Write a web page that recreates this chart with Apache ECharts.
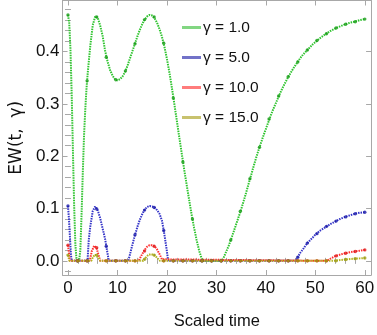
<!DOCTYPE html>
<html><head><meta charset="utf-8">
<script src="https://cdn.jsdelivr.net/npm/echarts@6/dist/echarts.min.js"></script>
<style>html,body{margin:0;padding:0;background:#fff}#c{width:377px;height:335px}</style>
</head><body><div id="c"></div>
<script>
const seriesNames = ['γ = 1.0', 'γ = 5.0', 'γ = 10.0', 'γ = 15.0'];
const xTicks = [0, 10, 20, 30, 40, 50, 60];
const xMinorTicks = [2,4,6,8,12,14,16,18,22,24,26,28,32,34,36,38,42,44,46,48,52,54,56,58];
const yTicks = [0.0, 0.1, 0.2, 0.3, 0.4];
const yMinorTicks = [-0.02,0.02,0.04,0.06,0.08,0.12,0.14,0.16,0.18,0.22,0.24,0.26,0.28,0.32,0.34,0.36,0.38,0.42,0.44,0.46,0.48];

const greenT = [0,0.25,0.5,0.75,1,1.25,1.5,1.75,2,2.25,2.5,2.75,3,3.25,3.5,3.75,4,4.5,5,5.5,6,6.5,7,7.5,8,8.5,9,9.5,10,10.5,11,11.5,12,12.5,13,13.5,14,14.5,15,15.5,16,16.5,17,17.5,18,18.5,19,19.5,20,20.5,21,21.5,22,22.5,23,23.5,24,24.5,25,25.5,26,26.5,27,27.4,31.1,31.5,32,32.5,33,33.5,34,34.5,35,35.5,36,36.5,37,37.5,38,38.5,39,39.5,40,40.5,41,41.5,42,42.5,43,43.5,44,44.5,45,45.5,46,46.5,47,47.5,48,48.5,49,49.5,50,51,52,53,54,55,56,57,58,59,60];
const greenV = [0.470,0.455,0.405,0.320,0.210,0.105,0.030,0,0,0,0.020,0.090,0.170,0.240,0.290,0.330,0.360,0.410,0.450,0.467,0.465,0.450,0.430,0.402,0.381,0.365,0.354,0.347,0.345,0.347,0.352,0.360,0.372,0.386,0.400,0.414,0.428,0.441,0.452,0.461,0.467,0.470,0.469,0.464,0.455,0.443,0.428,0.409,0.386,0.360,0.331,0.300,0.268,0.236,0.205,0.174,0.145,0.116,0.088,0.063,0.040,0.020,0.005,0,0,0.007,0.018,0.029,0.042,0.056,0.070,0.084,0.098,0.114,0.130,0.147,0.163,0.180,0.196,0.211,0.225,0.239,0.252,0.265,0.278,0.290,0.301,0.312,0.323,0.333,0.342,0.351,0.359,0.367,0.374,0.381,0.388,0.394,0.399,0.404,0.409,0.414,0.418,0.426,0.433,0.439,0.444,0.448,0.452,0.455,0.457,0.460,0.462];

const blueT = [0,0.2,0.4,0.6,0.75,3.95,4.2,4.5,5,5.5,6,6.5,7,7.5,8,8.25,12.2,13,13.5,14,14.5,15,15.5,16,16.5,17,17.5,18,18.5,19,19.5,20,20.25,46,46.5,47,47.5,48,48.5,49,50,51,52,53,54,55,56,57,58,59,60];
const blueV = [0.105,0.080,0.045,0.012,0,0,0.040,0.065,0.095,0.104,0.097,0.082,0.062,0.042,0.014,0,0,0.030,0.048,0.064,0.078,0.089,0.098,0.103,0.105,0.104,0.102,0.097,0.090,0.077,0.050,0.018,0,0,0.008,0.016,0.022,0.029,0.035,0.040,0.050,0.058,0.064,0.070,0.075,0.080,0.084,0.087,0.090,0.092,0.093];

const redT = [0,0.2,0.35,4.4,4.8,5.3,5.8,6.2,6.5,14.3,15,15.5,16,16.5,17,17.5,18,18.5,19,19.2,52.3,53,54,55,56,57,58,59,60];
const redV = [0.030,0.015,0,0,0.018,0.029,0.024,0.010,0,0,0.013,0.021,0.027,0.030,0.030,0.028,0.022,0.013,0.003,0,0,0.004,0.009,0.012,0.0145,0.0165,0.018,0.0195,0.021];

const oliveT = [0,0.15,0.3,4.7,5.1,5.5,5.9,6.3,6.5,15.2,15.7,16.2,16.8,17.4,18,18.6,53.5,55,56,57,58,59,60];
const oliveV = [0.011,0.005,0,0,0.008,0.012,0.011,0.004,0,0,0.006,0.011,0.013,0.011,0.006,0,0,0.0015,0.0025,0.0035,0.0042,0.0048,0.0055];

const markT = [0,1.935,3.871,5.806,7.742,9.677,11.613,13.548,15.484,17.419,19.355,21.290,23.226,25.161,27.097,29.032,30.968,32.903,34.839,36.774,38.710,40.645,42.581,44.516,46.452,48.387,50.323,52.258,54.194,56.129,58.065,60];
const greenMk = [0.470,0,0.344,0.466,0.389,0.346,0.363,0.415,0.461,0.466,0.416,0.311,0.189,0.080,0,0,0,0.040,0.095,0.157,0.217,0.271,0.315,0.352,0.380,0.403,0.421,0.434,0.445,0.452,0.457,0.462];
const blueMk = [0.105,0,0,0.099,0.028,0,0,0.050,0.097,0.102,0.058,0,0,0,0,0,0,0,0,0,0,0,0,0,0.007,0.034,0.052,0.066,0.076,0.084,0.090,0.093];
const redMk = [0.030,0,0,0.025,0,0,0,0,0.019,0.028,0,0,0,0,0,0,0,0,0,0,0,0,0,0,0,0,0,0,0.0095,0.0145,0.018,0.021];
const oliveMk = [0.011,0,0,0.011,0,0,0,0,0.003,0.011,0,0,0,0,0,0,0,0,0,0,0,0,0,0,0,0,0,0,0,0.0025,0.0042,0.0055];

const lineColors = ['#2fc42f', '#3434c8', '#ff3030', '#b4b41e'];
const markColors = ['#169b16', '#1a1aa8', '#e01818', '#9c9c14'];
const legendColors = ['#82d682', '#7272c8', '#ff7c7c', '#c8c26e'];

const sans = "'Liberation Sans', Arial, sans-serif";
const frame = '#a8a8a8';
const zip = (a, b) => a.map((v, i) => [v, b[i]]);

const lines = [[greenT, greenV], [blueT, blueV], [redT, redV], [oliveT, oliveV]];
const marks = [greenMk, blueMk, redMk, oliveMk];

const series = [];
lines.forEach((l, i) => {
  series.push({
    name: seriesNames[i], type: 'line', data: zip(l[0], l[1]),
    showSymbol: false, symbol: 'none', animation: false, z: 2 + i,
    itemStyle: { color: legendColors[i] },
    lineStyle: { color: lineColors[i], width: 2, type: [1.5, 1] }
  });
});
marks.forEach((m, i) => {
  series.push({
    name: seriesNames[i] + ' pts', type: 'scatter', data: zip(markT, m),
    symbol: 'circle', symbolSize: 3.4, animation: false, z: 10 + i,
    itemStyle: { color: markColors[i] }, silent: true
  });
});

const xBase = { type: 'value', min: -1.1, max: 61.27, splitLine: { show: false }, gridIndex: 0 };
const yBase = { type: 'value', min: -0.027, max: 0.4975, splitLine: { show: false }, gridIndex: 0 };

const option = {
  animation: false,
  backgroundColor: '#fff',
  grid: { left: 50, top: 0.5, width: 324, height: 275.5, show: false },
  legend: {
    orient: 'vertical', left: 177, top: 14, itemGap: 13,
    itemWidth: 19, itemHeight: 3, icon: 'rect',
    data: seriesNames.map((n, i) => ({ name: n, itemStyle: { color: legendColors[i] } })),
    textStyle: { fontFamily: sans, fontSize: 15.5, color: '#111', lineHeight: 17, padding: [0, 0, 0, -3] },
    selectedMode: false
  },
  xAxis: [
    Object.assign({}, xBase, { position: 'bottom',
      name: 'Scaled time', nameLocation: 'middle', nameGap: 38,
      nameTextStyle: { fontFamily: sans, fontSize: 16.5, color: '#111' },
      axisLine: { show: true, onZero: false, lineStyle: { color: frame, width: 1 } },
      axisTick: { show: true, inside: true, length: 5, customValues: xTicks, lineStyle: { color: frame } },
      axisLabel: { show: true, customValues: xTicks, margin: 5, fontFamily: sans, fontSize: 17, color: '#111', formatter: v => String(v) } }),
    Object.assign({}, xBase, { position: 'bottom',
      axisLine: { show: false },
      axisTick: { show: true, inside: true, length: 3, customValues: xMinorTicks, lineStyle: { color: frame } },
      axisLabel: { show: false } }),
    Object.assign({}, xBase, { position: 'top',
      axisLine: { show: true, onZero: false, lineStyle: { color: frame, width: 1 } },
      axisTick: { show: true, inside: true, length: 5, customValues: xTicks, lineStyle: { color: frame } },
      axisLabel: { show: false } }),
    Object.assign({}, xBase, { position: 'top',
      axisLine: { show: false },
      axisTick: { show: true, inside: true, length: 3, customValues: xMinorTicks, lineStyle: { color: frame } },
      axisLabel: { show: false } })
  ],
  yAxis: [
    Object.assign({}, yBase, { position: 'left',
      name: 'EW(t,  γ)', nameLocation: 'middle', nameGap: 35, nameRotate: 90,
      nameTextStyle: { fontFamily: "'DejaVu Sans', sans-serif", fontSize: 17, color: '#111' },
      axisLine: { show: true, onZero: false, lineStyle: { color: frame, width: 1 } },
      axisTick: { show: true, inside: true, length: 5, customValues: yTicks, lineStyle: { color: frame } },
      axisLabel: { show: true, customValues: yTicks, margin: 3, fontFamily: sans, fontSize: 17, color: '#111', formatter: v => v.toFixed(1) } }),
    Object.assign({}, yBase, { position: 'left',
      axisLine: { show: false },
      axisTick: { show: true, inside: true, length: 3, customValues: yMinorTicks, lineStyle: { color: frame } },
      axisLabel: { show: false } }),
    Object.assign({}, yBase, { position: 'right',
      axisLine: { show: true, onZero: false, lineStyle: { color: frame, width: 1 } },
      axisTick: { show: true, inside: true, length: 5, customValues: yTicks, lineStyle: { color: frame } },
      axisLabel: { show: false } }),
    Object.assign({}, yBase, { position: 'right',
      axisLine: { show: false },
      axisTick: { show: true, inside: true, length: 3, customValues: yMinorTicks, lineStyle: { color: frame } },
      axisLabel: { show: false } })
  ],
  series: series
};

const chart = echarts.init(document.getElementById('c'), null, { renderer: 'canvas' });
chart.setOption(option);
</script>
</body></html>
